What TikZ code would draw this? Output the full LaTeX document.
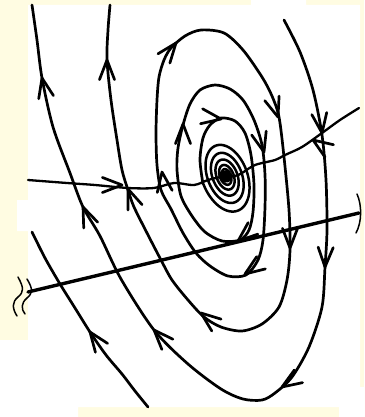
\documentclass[tikz,border=0pt]{standalone}
\usepackage{tikz}
\usepackage{xcolor}
\definecolor{paleyellow}{RGB}{255,252,226}

\begin{document}
\begin{tikzpicture}[x=1pt,y=-1pt,line width=2.7pt,line cap=round,line join=round]
\fill[paleyellow] (0,0) rectangle (364,417);
\fill[white] (28,5) -- (251,5) -- (251,0) -- (306,0) -- (306,5) -- (360,5) -- (360,387) -- (364,387) -- (364,417) -- (339,417) -- (339,407) -- (78,407) -- (78,417) -- (0,417) -- (0,340) -- (28,340) -- (28,231) -- (17,231) -- (17,200) -- (28,200) -- cycle;
\useasboundingbox (0,0) rectangle (364,417);
\draw plot[smooth] coordinates {(284,20) (300,52) (313,90) (322,135) (326,180) (327,230) (325,267) (322,307) (309,347) (292,377) (275,393) (262,400) (243,399) (221,389) (188,364) (154,330) (121,279) (100,236) (83,207) (70,173) (53,127) (42,78) (37,40) (32,5)};
\draw plot[smooth] coordinates {(32,232) (45,258) (60,284) (75,308) (90,332) (106,355) (122,374) (135,391) (148,407)};
\draw[line width=2.5pt] plot[domain=0:2700,samples=700,smooth,variable=\t] ({226+0.94*(1+23*(\t/2700)*(\t/2700))*cos(\t)+0.342*(2+37*(\t/2700)*(\t/2700))*sin(\t)},{176-0.342*(1+23*(\t/2700)*(\t/2700))*cos(\t)+0.94*(2+37*(\t/2700)*(\t/2700))*sin(\t)});
\draw plot[smooth] coordinates {(203,184) (200,160) (203,138) (210,125) (221,118) (235,121) (245,133) (251,155) (254,185) (253,212) (249,230) (240,240) (222,241) (205,232) (192,216) (181,196) (177,170) (178,148) (183,125) (190,104) (200,90) (215,85) (230,89) (243,100) (254,120) (262,145) (265,175) (265,207) (263,240) (258,260) (246,275) (228,276) (210,266) (196,253) (183,233) (171,209) (161,190) (157,165) (156,133) (157,100) (159,77) (164,60) (171,48) (185,36) (201,30) (224,33) (243,50) (262,77) (272,96) (279,117) (284,157) (289,210) (290,250) (287,280) (279,307) (262,324) (242,331) (221,327) (204,317) (188,300) (172,280) (161,260) (147,233) (134,207) (128,190) (122,170) (117,140) (111,100) (107,60) (108,30) (110,5)};
\draw[line width=2.3pt] plot[smooth] coordinates {(28,180) (67,183) (95,185) (128,188) (154,188) (174,183) (194,185) (208,180) (221,177) (235,176) (242,173) (255,165) (275,160) (285,155) (302,147) (322,133) (340,120) (359,108)};
\draw[line width=3.4pt] (28,292) -- (359,213);
\draw[line width=1.5pt] (18,277) .. controls (24,288) and (24,292) .. (18,297) .. controls (12,302) and (12,308) .. (17,316);
\draw[line width=1.5pt] (27,279) .. controls (33,289) and (33,293) .. (27,298) .. controls (21,303) and (21,309) .. (25,314);
\draw[line width=1.5pt] (357,194) .. controls (362,205) and (362,222) .. (356,233);
\foreach \px/\py/\a in {122/185/0, 313/140/214, 42/78/-102, 83/207/-113, 322/133/82, 325/267/92, 282/387/147, 154/330/-133, 90/332/-126, 107/60/-90, 128/189/-111, 201/313/-142, 290/248/90, 278/117/72, 176/43/-52, 162/172/-98, 183/124/-90, 264/152/75, 245/274/145, 221/119/8, 238/241/140}
  \draw (\px,\py) ++(\a+159:21) -- (\px,\py) -- ++(\a-159:21);
\end{tikzpicture}
\end{document}
